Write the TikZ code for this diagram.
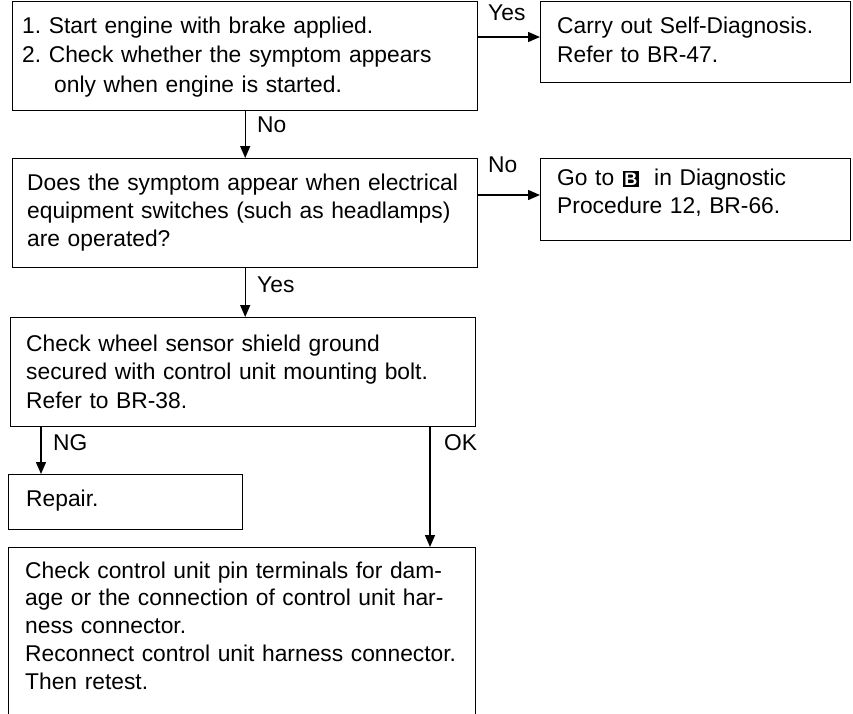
\documentclass[tikz,border=0pt]{standalone}
\usepackage{fontspec}
\setmainfont{Liberation Sans}
\usetikzlibrary{arrows.meta,calc}
\frenchspacing
\begin{document}
\begin{tikzpicture}[x=1pt,y=-1pt,
  box/.style={draw,line width=1.4pt,rectangle,inner sep=0pt,anchor=north west},
  txt/.style={anchor=base west,inner sep=0pt,align=left,text width=440pt,font=\fontsize{22.8}{29.5}\selectfont},
  lbl/.style={anchor=base west,inner sep=0pt,font=\fontsize{22.8}{29}\selectfont},
  arr/.style={line width=1.4pt,-{Triangle[length=12pt,width=10pt]}}]
\useasboundingbox (0,0) rectangle (853,713);
\clip (0,0) rectangle (853,713);
% boxes
\node[box,minimum width=465pt,minimum height=109pt] (b1) at (12,1) {};
\node[box,minimum width=310pt,minimum height=81pt] (b2) at (540,1) {};
\node[box,minimum width=465pt,minimum height=109pt] (b3) at (12,158) {};
\node[box,minimum width=310pt,minimum height=82pt] (b4) at (540,158) {};
\node[box,minimum width=465pt,minimum height=109pt] (b5) at (10,317) {};
\node[box,minimum width=234pt,minimum height=55pt] (b6) at (8,474) {};
\node[box,minimum width=467pt,minimum height=180pt] (b7) at (8,547) {};
% texts
\node[txt] (t1) at ($(b1.north west)+(10,32)$) {1. Start engine with brake applied.\\2. Check whether the symptom appears\\\hspace*{32pt}only when engine is started.};
\node[txt,text width=290pt] (t2) at ($(b2.north west)+(17,32)$) {Carry out Self-Diagnosis.\\Refer to BR-47.};
\node[txt,font=\fontsize{22.8}{28}\selectfont] (t3) at ($(b3.north west)+(15,32)$) {Does the symptom appear when electrical\\equipment switches (such as headlamps)\\are operated?};
\node[txt,text width=290pt,font=\fontsize{22.8}{28}\selectfont] (t4) at ($(b4.north west)+(17,27)$) {Go to\ \hspace{1pt}{\setlength\fboxsep{1.6pt}\colorbox{black}{\textcolor{white}{\fontsize{18}{18}\selectfont\bfseries B}}}\ \ in Diagnostic\\Procedure 12, BR-66.};
\node[txt,font=\fontsize{22.8}{28.5}\selectfont] (t5) at ($(b5.north west)+(16,34)$) {Check wheel sensor shield ground\\secured with control unit mounting bolt.\\Refer to BR-38.};
\node[txt] (t6) at ($(b6.north west)+(18,32)$) {Repair.};
\node[txt,font=\fontsize{22.8}{27.8}\selectfont] (t7) at ($(b7.north west)+(17,31)$) {Check control unit pin terminals for dam-\\age or the connection of control unit har-\\ness connector.\\Reconnect control unit harness connector.\\Then retest.};
% connector points
\coordinate (p12) at ($(b2.north west)+(0,36)$);
\coordinate (p34) at ($(b4.north west)+(0,37)$);
\coordinate (png) at ($(b6.north west)+(33,0)$);
\coordinate (pok) at ($(b7.north west)+(422,0)$);
% connectors
\draw[arr] (b1.east |- p12) -- (p12);
\draw[arr] (b1.south) -- (b3.north);
\draw[arr] (b3.east |- p34) -- (p34);
\draw[arr] (b3.south) -- (b3.south |- b5.north);
\draw[arr] (png |- b5.south) -- (png);
\draw[arr] (pok |- b5.south) -- (pok);
% labels
\node[lbl] (l1) at (488,20) {Yes};
\node[lbl] (l2) at (257,132) {No};
\node[lbl] (l3) at (488,172) {No};
\node[lbl] (l4) at (257,292) {Yes};
\node[lbl] (l5) at (53,450) {NG};
\node[lbl] (l6) at (444,450) {OK};
\end{tikzpicture}
\end{document}
